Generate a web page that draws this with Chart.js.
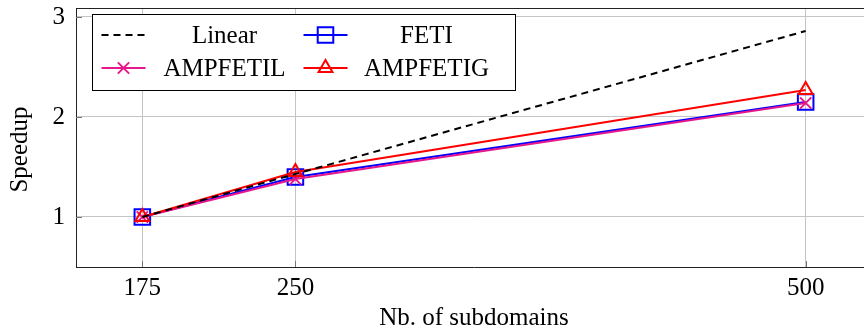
<!DOCTYPE html>
<html>
<head>
<meta charset="utf-8">
<script src="https://cdn.jsdelivr.net/npm/chart.js@4/dist/chart.umd.min.js"></script>
<style>
  html, body { margin: 0; padding: 0; overflow: hidden; background: #fff; }
  #wrap { width: 880px; height: 331px; }
</style>
</head>
<body>
<div id="wrap"><canvas id="speedChart" width="880" height="331"></canvas></div>
<script>
// values
const subdomains = [175, 250, 500];
const linear = [1, 1.43, 2.86];
const feti = [1, 1.40, 2.15];
const ampfetil = [1, 1.38, 2.14];
const ampfetig = [1, 1.45, 2.27];
const yTicks = [1, 2, 3];
const seriesNames = ["Linear", "FETI", "AMPFETIL", "AMPFETIG"];
const yTitle = "Speedup";

const serif = "'Liberation Serif', 'Times New Roman', serif";
const pink = "#e6178c";

function pts(ys) {
    return subdomains.map((x, i) => ({ x: x, y: ys[i] }));
}

// frame on top, inner tick marks and the y label, like pgfplots
const framePlugin = {
    id: "frame",
    afterDraw(chart) {
        const { ctx, chartArea: a, scales } = chart;
        ctx.save();
        ctx.strokeStyle = "#777";
        ctx.lineWidth = 1;
        ctx.beginPath();
        yTicks.forEach(v => {
            const y = Math.round(scales.y.getPixelForValue(v)) + 0.5;
            ctx.moveTo(a.left, y);
            ctx.lineTo(a.left + 6, y);
        });
        subdomains.forEach(v => {
            const x = Math.round(scales.x.getPixelForValue(v)) + 0.5;
            ctx.moveTo(x, a.bottom);
            ctx.lineTo(x, a.bottom - 6);
        });
        ctx.stroke();
        ctx.strokeStyle = "#222";
        ctx.beginPath();
        ctx.moveTo(a.left, Math.round(a.top) + 0.5);
        ctx.lineTo(a.right, Math.round(a.top) + 0.5);
        ctx.moveTo(Math.round(a.right) - 0.5, a.top);
        ctx.lineTo(Math.round(a.right) - 0.5, a.bottom);
        ctx.stroke();

        // y label sits a little below the axis middle in the original
        ctx.translate(20, (a.top + a.bottom) / 2 + 12);
        ctx.rotate(-Math.PI / 2);
        ctx.font = "25px " + serif;
        ctx.fillStyle = "#000";
        ctx.textAlign = "center";
        ctx.textBaseline = "middle";
        ctx.fillText(yTitle, 0, 0);
        ctx.restore();
    }
};

// two-column legend box
const legendPlugin = {
    id: "boxLegend",
    afterDraw(chart) {
        const { ctx, chartArea: a } = chart;
        const bx = a.left + 16.5, by = a.top + 6.5, bw = 423, bh = 76;
        ctx.save();
        ctx.fillStyle = "#fff";
        ctx.fillRect(bx, by, bw, bh);
        ctx.strokeStyle = "#000";
        ctx.lineWidth = 1;
        ctx.strokeRect(bx, by, bw, bh);

        const rows = [by + 20.5, by + 53.5];
        const cols = [bx + 9, bx + 211];
        ctx.font = "25px " + serif;
        ctx.textAlign = "center";
        ctx.textBaseline = "alphabetic";

        seriesNames.forEach((name, i) => {
            const ds = chart.data.datasets.find(d => d.label === name);
            const x0 = cols[i % 2], y = rows[Math.floor(i / 2)];
            ctx.save();
            ctx.strokeStyle = ds.borderColor;
            ctx.lineWidth = ds.borderWidth;
            ctx.setLineDash(ds.borderDash || []);
            ctx.beginPath();
            ctx.moveTo(x0, y);
            ctx.lineTo(x0 + 44, y);
            ctx.stroke();
            ctx.restore();
            if (ds.pointRadius > 0) {
                ctx.save();
                ctx.strokeStyle = ds.pointBorderColor;
                ctx.fillStyle = "rgba(0,0,0,0)";
                ctx.lineWidth = ds.pointBorderWidth;
                Chart.helpers.drawPoint(ctx, {
                    pointStyle: ds.pointStyle,
                    radius: ds.pointRadius,
                    rotation: 0,
                    borderWidth: ds.pointBorderWidth
                }, x0 + 22, y);
                ctx.restore();
            }
            ctx.fillStyle = "#000";
            ctx.fillText(name, x0 + 123, y + 8);
        });
        ctx.restore();
    }
};

const ctx = document.getElementById("speedChart").getContext("2d");
const speedChart = new Chart(ctx, {
    type: "line",
    data: {
        datasets: [
            {
                label: "Linear", data: pts(linear), borderColor: "#000", borderWidth: 2,
                borderDash: [7, 5], pointRadius: 0, order: 0
            },
            {
                label: "FETI", data: pts(feti), borderColor: "#0000ff", borderWidth: 2,
                pointStyle: "rect", pointRadius: 11, pointBorderWidth: 2,
                pointBorderColor: "#0000ff", pointBackgroundColor: "rgba(0,0,0,0)", order: 3
            },
            {
                label: "AMPFETIL", data: pts(ampfetil), borderColor: pink, borderWidth: 2,
                pointStyle: "crossRot", pointRadius: 8, pointBorderWidth: 2,
                pointBorderColor: pink, pointBackgroundColor: "rgba(0,0,0,0)", order: 2
            },
            {
                label: "AMPFETIG", data: pts(ampfetig), borderColor: "#ff0000", borderWidth: 2,
                pointStyle: "triangle", pointRadius: 8, pointBorderWidth: 2,
                pointBorderColor: "#ff0000", pointBackgroundColor: "rgba(0,0,0,0)", order: 1
            }
        ]
    },
    options: {
        responsive: false,
        animation: false,
        layout: { autoPadding: false, padding: { top: 8, right: 8, left: 0, bottom: 0 } },
        plugins: { legend: { display: false }, tooltip: { enabled: false } },
        elements: { line: { tension: 0, fill: false } },
        scales: {
            x: {
                type: "linear",
                min: 142.5,
                max: 532.5,
                afterBuildTicks: axis => { axis.ticks = subdomains.map(v => ({ value: v })); },
                afterFit: axis => {
                    axis.height = 64;
                    axis.paddingLeft = 0; axis.paddingRight = 0;
                },
                grid: { color: "#c4c4c4", lineWidth: 1, drawTicks: false },
                border: { color: "#222", width: 1 },
                ticks: {
                    padding: 6, color: "#000", maxRotation: 0,
                    font: { family: serif, size: 25 },
                    callback: v => String(v)
                },
                title: {
                    display: true, text: "Nb. of subdomains", color: "#000",
                    font: { family: serif, size: 25, lineHeight: 1 },
                    padding: { top: 0, bottom: 0 }
                }
            },
            y: {
                type: "linear",
                min: 0.5,
                max: 3.09,
                afterBuildTicks: axis => { axis.ticks = yTicks.map(v => ({ value: v })); },
                afterFit: axis => {
                    axis.width = 76;
                    axis.paddingTop = 0; axis.paddingBottom = 0;
                },
                grid: { color: "#c4c4c4", lineWidth: 1, drawTicks: false },
                border: { color: "#222", width: 1 },
                ticks: {
                    padding: 11, color: "#000",
                    font: { family: serif, size: 25 },
                    callback: v => String(v)
                },
                title: { display: false }
            }
        }
    },
    plugins: [framePlugin, legendPlugin]
});
</script>
</body>
</html>
